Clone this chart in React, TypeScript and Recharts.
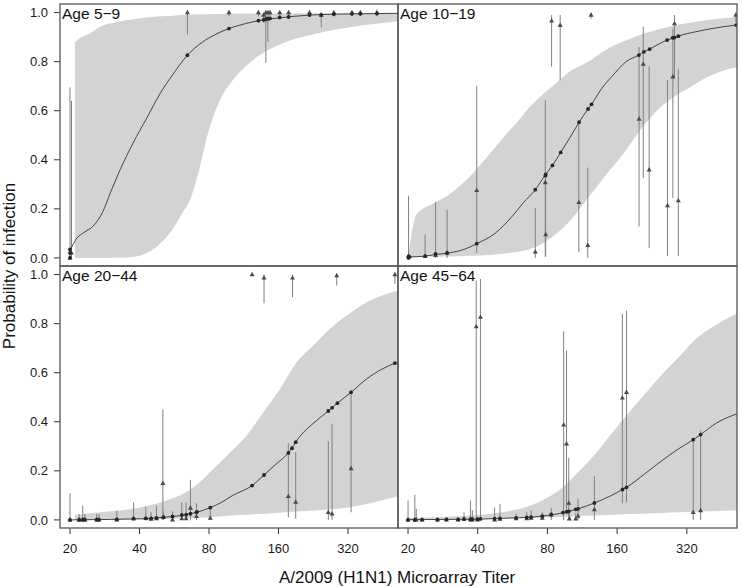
import React from 'react'
import { Area, ComposedChart, ErrorBar, Line, Scatter, XAxis, YAxis } from 'recharts'

const X_TICKS = [20, 40, 80, 160, 320]
const Y_TICKS = [0, 0.2, 0.4, 0.6, 0.8, 1]
const X_DOMAIN = [18.1, 527]
const Y_DOMAIN = [-0.033, 1.035]

// band rows: [titer, lower, upper]
const band5to9 = [
  [21, 0, 0.88], [22.5, 0, 0.9], [24.4, 0, 0.915], [27, 0, 0.942], [31.8, 0.001, 0.962],
  [37.5, 0.004, 0.973], [43, 0.02, 0.98], [47.6, 0.047, 0.984], [52.4, 0.085, 0.986],
  [56, 0.12, 0.987], [61, 0.18, 0.99], [66.2, 0.237, 0.991], [73.1, 0.372, 0.992],
  [79.2, 0.508, 0.993], [89.3, 0.643, 0.994], [101.6, 0.725, 0.995], [124, 0.806, 0.996],
  [167, 0.875, 0.996], [235, 0.915, 0.997], [326, 0.94, 0.997], [527, 0.965, 0.997],
]
const band10to19 = [
  [20.1, 0.004, 0.01], [21.7, 0.005, 0.176], [26.1, 0.006, 0.225], [30.8, 0.006, 0.265],
  [35, 0.008, 0.31], [40.2, 0.01, 0.37], [47.5, 0.014, 0.45], [52.6, 0.018, 0.5],
  [60, 0.025, 0.56], [66.3, 0.034, 0.61], [74.5, 0.054, 0.657], [86.6, 0.095, 0.71],
  [100, 0.15, 0.76], [104, 0.169, 0.77], [120, 0.245, 0.8], [145, 0.345, 0.852],
  [171, 0.427, 0.883], [202, 0.522, 0.91], [239, 0.603, 0.93], [282, 0.657, 0.947],
  [333, 0.698, 0.96], [394, 0.738, 0.97], [465, 0.765, 0.978], [540, 0.779, 0.983],
]
const band20to44 = [
  [21, 0, 0.02], [27, 0.001, 0.031], [37.5, 0.002, 0.045], [52.4, 0.004, 0.079],
  [60, 0.006, 0.1], [70, 0.009, 0.14], [83.5, 0.012, 0.208], [100, 0.018, 0.28],
  [116.5, 0.021, 0.344], [137.6, 0.025, 0.439], [162.5, 0.029, 0.534], [191.8, 0.034, 0.643],
  [226.5, 0.038, 0.711], [267.5, 0.043, 0.779], [316, 0.05, 0.833], [385, 0.065, 0.887],
  [450, 0.08, 0.915], [527, 0.096, 0.935],
]
const band45to64 = [
  [20, 0, 0.008], [34, 0.003, 0.016], [47.5, 0.004, 0.027], [56, 0.006, 0.038],
  [66, 0.008, 0.055], [78, 0.01, 0.085], [92.5, 0.012, 0.13], [110, 0.015, 0.2],
  [129, 0.018, 0.27], [145, 0.02, 0.33], [166, 0.022, 0.398], [202, 0.025, 0.493],
  [247, 0.028, 0.588], [300, 0.031, 0.67], [344, 0.033, 0.731], [420, 0.036, 0.79],
  [540, 0.038, 0.847],
]

// fitted curve: [titer, probability]
const curve5to9 = [
  [20, 0.03], [21.4, 0.08], [23.2, 0.106], [25.2, 0.13], [27.8, 0.19],
  [29.9, 0.265], [33, 0.36], [37.5, 0.468], [43, 0.57], [49.2, 0.671], [56, 0.75],
  [64.5, 0.826], [75, 0.88], [85, 0.91], [97.6, 0.935], [115, 0.955], [131, 0.967],
  [160, 0.978], [220, 0.99], [300, 0.994], [430, 0.996], [527, 0.997],
]
const curve10to19 = [
  [20.1, 0.004], [23.6, 0.007], [26.3, 0.014], [29.9, 0.02], [35, 0.035], [39.6, 0.058],
  [47.5, 0.1], [56.3, 0.169], [63, 0.225], [70.9, 0.278], [78.4, 0.339], [84.1, 0.377],
  [91.3, 0.43], [100, 0.49], [109.6, 0.553], [119.8, 0.607], [124, 0.626], [137, 0.69],
  [152, 0.74], [175, 0.8], [198.6, 0.827], [208.8, 0.84], [221, 0.851], [240, 0.87],
  [263, 0.888], [283, 0.898], [294, 0.904], [350, 0.922], [430, 0.938], [523, 0.949],
]
const curve20to44 = [
  [20, 0], [30, 0.002], [37.5, 0.004], [45, 0.006], [50.6, 0.011], [56, 0.014],
  [64, 0.022], [70.6, 0.031], [81, 0.05], [90, 0.07], [101, 0.099], [123, 0.14],
  [138.5, 0.183], [155, 0.225], [176.5, 0.273], [183, 0.292], [190, 0.317], [234, 0.405],
  [263, 0.444], [273, 0.457], [288, 0.476], [330, 0.52], [386, 0.575], [450, 0.615],
  [511, 0.639],
]
const curve45to64 = [
  [20, 0.001], [30, 0.002], [40, 0.003], [50, 0.006], [60, 0.009], [70, 0.012],
  [80, 0.018], [90, 0.026], [100, 0.036], [110, 0.047], [127.6, 0.069], [150, 0.098],
  [168.9, 0.124], [175.6, 0.133], [212, 0.19], [250, 0.242], [294, 0.289], [341, 0.327],
  [367, 0.348], [430, 0.395], [540, 0.436],
]

// fitted values at observed titers: [titer, probability]
const fitted5to9 = [
  [20, 0.035], [20, 0.02], [20, 0], [64.5, 0.826], [97.6, 0.935], [131, 0.967], [138, 0.97],
  [141, 0.973], [143, 0.975], [145, 0.975], [147, 0.976], [162, 0.98], [177, 0.982],
  [218, 0.99], [245, 0.99], [278, 0.993], [333, 0.995], [362, 0.995], [427, 0.996],
]
const fitted10to19 = [
  [20.1, 0], [20.1, 0.006], [20.3, 0.004], [23.7, 0.007], [26.3, 0.016], [29.5, 0.02],
  [39.6, 0.058], [70.9, 0.278], [78.4, 0.335], [78.6, 0.34], [84.1, 0.377], [91.3, 0.43],
  [109.6, 0.553], [119.8, 0.607], [124, 0.626], [198.6, 0.827], [208.8, 0.84], [221, 0.851],
  [263, 0.888], [278, 0.897], [283, 0.898], [294, 0.904], [523, 0.949],
]
const fitted20to44 = [
  [20, 0], [21.9, 0], [22.7, 0.001], [23.2, 0.001], [26.1, 0.001], [26.7, 0.001],
  [31.9, 0.002], [37.7, 0.005], [42.6, 0.006], [44.9, 0.006], [47.4, 0.008], [50.8, 0.011],
  [55.6, 0.014], [61, 0.02], [63.7, 0.021], [66.5, 0.025], [70.6, 0.031], [71, 0.033],
  [81, 0.05], [123, 0.14], [138.5, 0.183], [176.5, 0.273], [183, 0.292], [190, 0.317],
  [263, 0.444], [273, 0.457], [288, 0.476], [330, 0.52], [511, 0.639],
]
const fitted45to64 = [
  [20, 0], [21.4, 0], [23, 0.001], [26.8, 0.001], [29.3, 0.002], [32.9, 0.002],
  [34.9, 0.003], [37.2, 0.003], [37.9, 0.003], [39.9, 0.003], [41.1, 0.004], [47.3, 0.005],
  [49.9, 0.006], [58.6, 0.008], [65.1, 0.01], [68, 0.011], [76, 0.015], [83.1, 0.022],
  [93.3, 0.03], [96.9, 0.033], [98.9, 0.035], [106, 0.043], [108.5, 0.045], [127.6, 0.069],
  [168.9, 0.124], [175.6, 0.133], [341, 0.327], [367, 0.348],
]

// observed proportions: [titer, proportion, ci low, ci high]
const observed5to9 = [
  [20, 0, 0, 0.695], [20.3, 0.02, 0, 0.64], [64.5, 1, 0.91, 1], [97.6, 1, 0.985, 1],
  [131, 1, 0.985, 1], [138, 0.99, 0.96, 1], [141, 1, 0.795, 1], [144, 1, 0.88, 1],
  [147, 1, 0.985, 1], [162, 1, 0.985, 1], [177, 1, 0.985, 1], [218, 1, 0.985, 1],
  [245, 0.99, 0.94, 1], [278, 1, 0.985, 1], [333, 1, 0.985, 1], [362, 1, 0.985, 1],
  [427, 1, 0.985, 1],
]
const observed10to19 = [
  [20.1, 0.007, 0, 0.253], [23.7, 0.007, 0, 0.095], [26.3, 0.01, 0, 0.228],
  [29.5, 0.02, 0, 0.196], [39.6, 0.275, 0.02, 0.7], [70.9, 0.024, 0, 0.203],
  [78.3, 0.307, 0.005, 0.643], [78.6, 0.095, 0.005, 0.32], [83.4, 0.966, 0.78, 0.99],
  [90.8, 0.948, 0.725, 0.99], [109.3, 0.226, 0.023, 0.553], [119.5, 0.051, 0, 0.368],
  [123.5, 0.99, 0.975, 1], [199, 0.566, 0.128, 0.86], [207.5, 0.79, 0.325, 0.942],
  [220, 0.359, 0.04, 0.78], [264, 0.213, 0.007, 0.725], [278.5, 0.738, 0.244, 0.935],
  [283, 0.955, 0.736, 0.99], [294, 0.233, 0.007, 0.768], [521, 0.99, 0.96, 1],
]
const observed20to44 = [
  [20, 0, 0, 0.109], [21.9, 0, 0, 0.024], [22.7, 0, 0, 0.058], [23.2, 0, 0, 0.024],
  [26.1, 0, 0, 0.024], [26.7, 0, 0, 0.024], [31.9, 0, 0, 0.038], [37.7, 0.005, 0, 0.072],
  [42.6, 0.006, 0, 0.054], [44.9, 0.003, 0, 0.031], [47.4, 0.005, 0, 0.058],
  [50.5, 0.149, 0, 0.45], [50.8, 0.01, 0, 0.035], [55.6, 0, 0, 0.035],
  [61, 0.005, 0, 0.072], [63.7, 0.005, 0, 0.072], [66.5, 0.048, 0, 0.163],
  [70.6, 0.014, 0, 0.068], [81, 0.007, 0, 0.052], [123, 1, 1, 1], [138.5, 0.986, 0.883, 1],
  [176.5, 0.096, 0.011, 0.3125], [184, 0.986, 0.908, 1], [190, 0.072, 0.004, 0.276],
  [263, 0.031, 0, 0.32], [273, 0.024, 0, 0.391], [286, 0.996, 0.955, 1],
  [330, 0.209, 0.031, 0.53], [511, 1, 0.962, 1],
]
const observed45to64 = [
  [20, 0, 0, 0.079], [21.4, 0, 0, 0.103], [21.7, 0, 0, 0.045], [23, 0, 0, 0.005],
  [26.8, 0, 0, 0.005], [29.3, 0, 0, 0.005], [32.9, 0, 0, 0.005], [34.9, 0.003, 0, 0.031],
  [37.2, 0, 0, 0.079], [37.9, 0, 0, 0.04], [39.4, 0.788, 0, 0.976], [39.9, 0, 0, 0.01],
  [41.1, 0.826, 0, 0.982], [47.3, 0, 0, 0.05], [49.9, 0.003, 0, 0.065],
  [58.6, 0.005, 0, 0.025], [65.1, 0.005, 0, 0.031], [68, 0.007, 0, 0.04],
  [76, 0.007, 0, 0.031], [83.1, 0.02, 0, 0.048], [94, 0.387, 0, 0.769],
  [96.7, 0.31, 0.025, 0.69], [98.9, 0.068, 0, 0.253], [99.5, 0.004, 0, 0.03],
  [106, 0.004, 0, 0.027], [108.5, 0.015, 0, 0.086], [127.6, 0.042, 0, 0.178],
  [168.5, 0.497, 0.068, 0.84], [175.6, 0.52, 0.072, 0.853], [341, 0.031, 0, 0.327],
  [367, 0.038, 0, 0.364],
]

const PANEL_LABELS = ['Age 5\u22129', 'Age 10\u221219', 'Age 20\u221244', 'Age 45\u221264']
const X_TITLE = 'A/2009 (H1N1) Microarray Titer'
const Y_TITLE = 'Probability of infection'

const FONT = "'Liberation Sans', Arial, Helvetica, sans-serif"

const Triangle = (props: any) => {
  const { cx, cy } = props
  if (cx == null || cy == null) return null
  return (
    <path
      d={`M${cx},${cy - 2.8} L${cx + 2.5},${cy + 1.6} L${cx - 2.5},${cy + 1.6} Z`}
      fill='#4a4a4a'
    />
  )
}

const Dot = (props: any) => {
  const { cx, cy } = props
  if (cx == null || cy == null) return null
  return <circle cx={cx} cy={cy} r={1.9} fill='#262626' />
}

type PanelProps = {
  band: number[][]
  curve: number[][]
  fitted: number[][]
  observed: number[][]
  left: number
  top: number
  width: number
  height: number
  showX: boolean
  showY: boolean
}

function Panel({ band, curve, fitted, observed, left, top, width, height, showX, showY }: PanelProps) {
  const bandRows = band.map(([t, lo, hi]) => ({ t, range: [lo, hi] }))
  const curveRows = curve.map(([t, p]) => ({ t, p }))
  const fittedRows = fitted.map(([t, p]) => ({ t, p }))
  const observedRows = observed.map(([t, p, lo, hi]) => ({ t, p, err: [p - lo, hi - p] }))

  return (
    <div style={{ position: 'absolute', left, top }}>
      <ComposedChart
        width={width}
        height={height}
        data={bandRows}
        margin={{ top: showX ? 0 : 4, right: 0, bottom: 0, left: 0 }}
      >
        <XAxis
          dataKey='t'
          type='number'
          scale='log'
          domain={X_DOMAIN}
          allowDataOverflow
          ticks={X_TICKS}
          hide={!showX}
          height={59}
          axisLine={false}
          tickLine={{ stroke: '#333' }}
          tickSize={6}
          tickMargin={10}
          tick={{ fontSize: 13, fill: '#1a1a1a' }}
          interval={0}
        />
        <YAxis
          type='number'
          domain={Y_DOMAIN}
          allowDataOverflow
          ticks={Y_TICKS}
          hide={!showY}
          width={60}
          axisLine={false}
          tickLine={{ stroke: '#333' }}
          tickSize={6}
          tickMargin={6}
          tick={{ fontSize: 13, fill: '#1a1a1a' }}
          tickFormatter={(v: number) => v.toFixed(1)}
          interval={0}
        />
        <Area
          dataKey='range'
          type='monotone'
          stroke='none'
          fill='#d3d3d3'
          fillOpacity={1}
          isAnimationActive={false}
        />
        <Scatter data={observedRows} dataKey='p' shape={Triangle} isAnimationActive={false}>
          <ErrorBar dataKey='err' direction='y' width={0} stroke='#808080' strokeWidth={1} />
        </Scatter>
        <Line
          data={curveRows}
          dataKey='p'
          type='monotone'
          stroke='#333'
          strokeWidth={0.9}
          dot={false}
          activeDot={false}
          isAnimationActive={false}
        />
        <Scatter data={fittedRows} dataKey='p' shape={Dot} isAnimationActive={false} />
      </ComposedChart>
    </div>
  )
}

export default function App() {
  const frames = [
    { x: 60, y: 4, w: 338, h: 262 },
    { x: 398, y: 4, w: 339, h: 262 },
    { x: 60, y: 266, w: 338, h: 262 },
    { x: 398, y: 266, w: 339, h: 262 },
  ]

  return (
    <div
      style={{
        position: 'absolute',
        left: 0,
        top: 0,
        width: 742,
        height: 587,
        background: '#fff',
        fontFamily: FONT,
      }}
    >
      <Panel band={band5to9} curve={curve5to9} fitted={fitted5to9} observed={observed5to9}
        left={0} top={0} width={398} height={266} showX={false} showY />
      <Panel band={band10to19} curve={curve10to19} fitted={fitted10to19} observed={observed10to19}
        left={398} top={0} width={339} height={266} showX={false} showY={false} />
      <Panel band={band20to44} curve={curve20to44} fitted={fitted20to44} observed={observed20to44}
        left={0} top={266} width={398} height={321} showX showY />
      <Panel band={band45to64} curve={curve45to64} fitted={fitted45to64} observed={observed45to64}
        left={398} top={266} width={339} height={321} showX showY={false} />

      <svg
        width={742}
        height={587}
        style={{ position: 'absolute', left: 0, top: 0, pointerEvents: 'none', fontFamily: FONT }}
      >
        {frames.map((f, i) => (
          <g key={i}>
            <rect x={f.x} y={f.y} width={f.w} height={f.h} fill='none' stroke='#555' strokeWidth={1.3} />
            <text x={f.x + 2} y={f.y + 15} fontSize={15.5} fill='#111'>
              {PANEL_LABELS[i]}
            </text>
          </g>
        ))}
        <text x={397} y={583} fontSize={17} fill='#111' textAnchor='middle'>
          {X_TITLE}
        </text>
        <text
          transform='rotate(-90)'
          x={-266}
          y={15}
          fontSize={17}
          fill='#111'
          textAnchor='middle'
        >
          {Y_TITLE}
        </text>
      </svg>
    </div>
  )
}
